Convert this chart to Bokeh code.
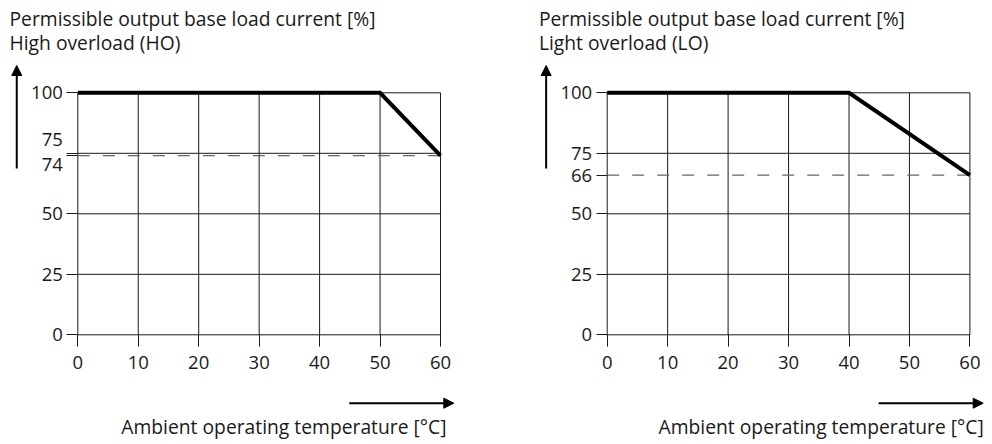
from bokeh.plotting import figure
from bokeh.layouts import row
from bokeh.models import Range1d, FixedTicker, Label, Arrow, NormalHead
from bokeh.embed import file_html
from bokeh.resources import INLINE

FONT = "Open Sans"
INK = "#1a1a1a"
TXT = "19.3px"
TICK = "18.5px"

# ---------------- data ----------------
title_line1 = "Permissible output base load current [%]"
titles_line2 = ["High overload (HO)", "Light overload (LO)"]
x_label = "Ambient operating temperature [°C]"

x_ticks = [0, 10, 20, 30, 40, 50, 60]
y_grid = [0, 25, 50, 75, 100]

ho_x = [0, 50, 60]
ho_y = [100, 100, 74]
lo_x = [0, 40, 60]
lo_y = [100, 100, 66]

limits = [74, 66]
series = [(ho_x, ho_y), (lo_x, lo_y)]

# ---------------- layout constants (pixels) ----------------
PX_X = 6.045          # pixels per degree
PX_Y = 2.42           # pixels per percent
FIG_H = 442
FIG_W = [496, 494]
ORIGIN_X = [77.3, 110.7]   # pixel position of x=0 inside each figure
ORIGIN_Y = 334.3           # pixel position of y=0 from the top


def ypix(py):
    """data y for a pixel row measured from the top of the figure"""
    return (ORIGIN_Y - py) / PX_Y


def make_chart(idx):
    sx, sy = series[idx]
    lim = limits[idx]
    w = FIG_W[idx]
    ox = ORIGIN_X[idx]
    x_range = Range1d(-ox / PX_X, (w - ox) / PX_X)
    y_range = Range1d(ypix(FIG_H), ypix(0))

    p = figure(width=w, height=FIG_H, x_range=x_range, y_range=y_range,
               min_border=0, output_backend="svg", toolbar_location=None,
               background_fill_color="white", border_fill_color="white")
    p.outline_line_color = None
    p.grid.visible = False

    # grid lines (drawn from tick arrays)
    xmin, xmax = x_ticks[0], x_ticks[-1]
    ymin, ymax = y_grid[0], y_grid[-1]
    p.segment(x0=x_ticks, y0=[ymin] * len(x_ticks), x1=x_ticks,
              y1=[ymax] * len(x_ticks), line_color=INK, line_width=1)
    p.segment(x0=[xmin] * len(y_grid), y0=y_grid, x1=[xmax] * len(y_grid),
              y1=y_grid, line_color=INK, line_width=1)

    # x axis fixed at y = 0
    xa = p.xaxis[0]
    xa.fixed_location = 0
    xa.ticker = FixedTicker(ticks=x_ticks)
    xa.axis_line_color = None
    xa.major_tick_in = 0
    xa.major_tick_out = 12
    xa.major_tick_line_color = INK
    xa.minor_tick_line_color = None
    xa.major_label_standoff = 9
    xa.major_label_text_font = FONT
    xa.major_label_text_font_size = TICK
    xa.major_label_text_color = INK

    # y axis fixed at x = 0
    ya = p.yaxis[0]
    ya.fixed_location = 0
    ya.ticker = FixedTicker(ticks=sorted(set(y_grid + [lim])))
    ya.axis_line_color = None
    ya.major_tick_in = 0
    ya.major_tick_out = 11
    ya.major_tick_line_color = INK
    ya.minor_tick_line_color = None
    ya.major_label_standoff = 4
    ya.major_label_text_font = FONT
    ya.major_label_text_font_size = TICK
    ya.major_label_text_color = INK

    if idx == 0:
        # 75 and 74 lie too close: draw these two labels pushed apart
        ya.major_label_overrides = {75: "", 74: ""}
        p.add_layout(Label(x=0, y=75, text="75", text_font=FONT,
                           text_font_size=TICK, text_color=INK,
                           text_align="right", text_baseline="middle",
                           x_offset=-15, y_offset=14))
        p.add_layout(Label(x=0, y=74, text="74", text_font=FONT,
                           text_font_size=TICK, text_color=INK,
                           text_align="right", text_baseline="middle",
                           x_offset=-15, y_offset=-9))

    # dashed limit line
    p.line([xmin, xmax], [lim, lim], line_color="#666666",
           line_width=1.2, line_dash="12 13")

    # derating curve
    p.line(sx, sy, line_color="black", line_width=4, line_join="miter")

    # two-line heading
    p.add_layout(Label(x=-11.3, y=ypix(18), text=title_line1,
                       text_font=FONT, text_font_size=TXT, text_color=INK,
                       text_align="left", text_baseline="alphabetic"))
    p.add_layout(Label(x=-11.3, y=ypix(41.5), text=titles_line2[idx],
                       text_font=FONT, text_font_size=TXT, text_color=INK,
                       text_align="left", text_baseline="alphabetic"))

    head = dict(size=10, fill_color="black", line_color="black")
    # y arrow
    p.add_layout(Arrow(end=NormalHead(**head),
                       x_start=-10.1, y_start=ypix(168),
                       x_end=-10.1, y_end=ypix(65),
                       line_width=2, line_color="black"))
    # x arrow
    p.add_layout(Arrow(end=NormalHead(**head),
                       x_start=44.9, y_start=ypix(402.7),
                       x_end=62.2, y_end=ypix(402.7),
                       line_width=2, line_color="black"))
    # x axis caption, right aligned
    xl_end = 61.0 if idx == 0 else 62.3
    p.add_layout(Label(x=xl_end, y=ypix(426), text=x_label,
                       text_font=FONT, text_font_size=TXT, text_color=INK,
                       text_align="right", text_baseline="alphabetic"))
    return p


p1 = make_chart(0)
p2 = make_chart(1)
layout = row(p1, p2, spacing=0)

open("out.html", "w").write(file_html(layout, INLINE))
